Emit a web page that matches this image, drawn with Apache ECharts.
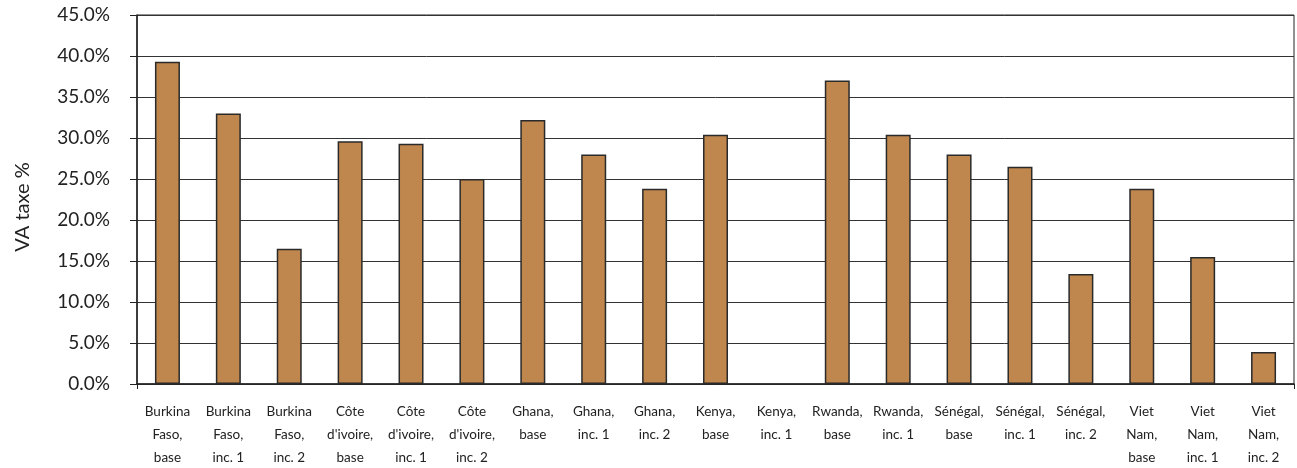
<!DOCTYPE html>
<html>
<head>
<meta charset="utf-8">
<script src="https://cdn.jsdelivr.net/npm/echarts@6/dist/echarts.min.js"></script>
<style>
html,body{margin:0;padding:0;background:#fff;}
#chart{width:1297px;height:468px;}
</style>
</head>
<body>
<div id="chart"></div>
<script>
const categories = [
  "Burkina\nFaso,\nbase", "Burkina\nFaso,\ninc. 1", "Burkina\nFaso,\ninc. 2",
  "Côte\nd'ivoire,\nbase", "Côte\nd'ivoire,\ninc. 1", "Côte\nd'ivoire,\ninc. 2",
  "Ghana,\nbase", "Ghana,\ninc. 1", "Ghana,\ninc. 2",
  "Kenya,\nbase", "Kenya,\ninc. 1",
  "Rwanda,\nbase", "Rwanda,\ninc. 1",
  "Sénégal,\nbase", "Sénégal,\ninc. 1", "Sénégal,\ninc. 2",
  "Viet\nNam,\nbase", "Viet\nNam,\ninc. 1", "Viet\nNam,\ninc. 2"
];
const vaTax = [39.3, 33.0, 16.5, 29.6, 29.3, 25.0, 32.2, 28.0, 23.8, 30.4, 0, 37.0, 30.4, 28.0, 26.5, 13.4, 23.8, 15.5, 3.9];
const yTicks = [0, 5, 10, 15, 20, 25, 30, 35, 40, 45];

const FONT = 'Lato, "Open Sans", sans-serif';
const chart = echarts.init(document.getElementById('chart'), null, {renderer: 'canvas'});
chart.setOption({
  animation: false,
  backgroundColor: '#ffffff',
  grid: {
    left: 137, right: 3, top: 15, bottom: 84,
    containLabel: false, outerBoundsMode: 'none',
    show: true, borderColor: '#222', borderWidth: 1, backgroundColor: 'transparent'
  },
  xAxis: {
    type: 'category',
    data: categories,
    axisLine: {show: true, lineStyle: {color: '#222', width: 1.5}},
    axisTick: {show: true, interval: function (i) { return i === 0; }, length: 5, lineStyle: {color: '#222'}},
    axisLabel: {
      interval: 0, fontFamily: FONT, fontSize: 13.5, color: '#222',
      lineHeight: 23, margin: 16
    },
    splitLine: {show: false}
  },
  yAxis: {
    type: 'value',
    min: yTicks[0], max: yTicks[yTicks.length - 1], interval: 5,
    name: 'VA taxe %',
    nameLocation: 'middle',
    nameGap: 104,
    nameRotate: 90,
    nameTextStyle: {fontFamily: FONT, fontSize: 20, color: '#222', padding: [0, 15, 0, 0]},
    axisLine: {show: true, lineStyle: {color: '#222', width: 1.5}},
    axisTick: {show: true, length: 7, lineStyle: {color: '#222'}},
    axisLabel: {
      fontFamily: FONT, fontSize: 19, color: '#222', margin: 27,
      formatter: function (v) { return v.toFixed(1) + '%'; }
    },
    splitLine: {show: true, lineStyle: {color: '#333', width: 1}}
  },
  series: [{
    type: 'bar',
    data: vaTax.map(function (v) { return v === 0 ? '-' : v; }),
    barWidth: 25,
    itemStyle: {color: '#BF874D', borderColor: '#2a2a2a', borderWidth: 1.5}
  }]
});
</script>
</body>
</html>
